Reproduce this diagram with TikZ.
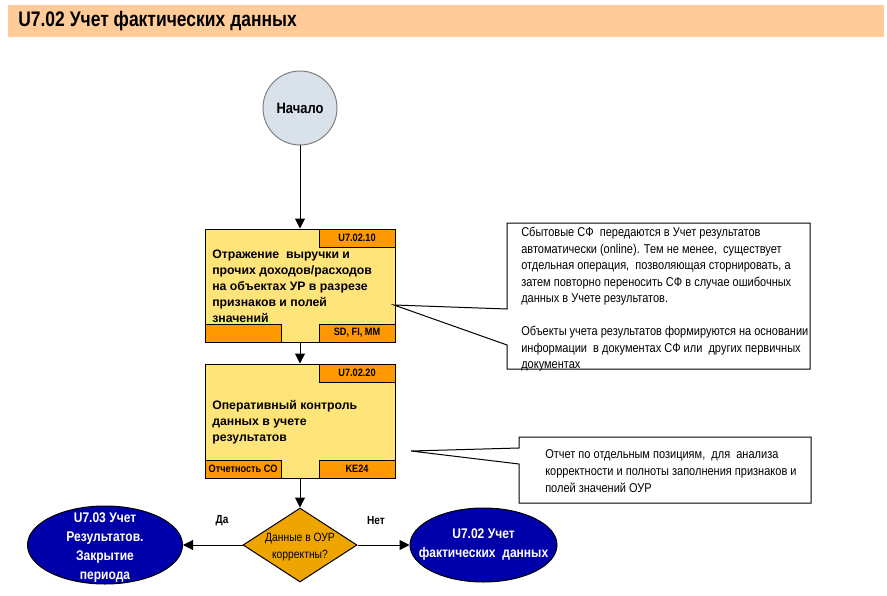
\documentclass[tikz,border=0pt]{standalone}
\usepackage{fontspec}
\setmainfont{Liberation Sans}
\newfontfamily\nar[FakeStretch=0.86]{Liberation Sans}
\newfontfamily\tnar[FakeStretch=0.83]{Liberation Sans}
\usetikzlibrary{shapes.geometric,arrows.meta}
\definecolor{titlebg}{HTML}{FFCC99}
\definecolor{boxfill}{HTML}{FFE47A}
\definecolor{tagfill}{HTML}{FF9900}
\definecolor{decfill}{HTML}{EEA500}
\definecolor{ellfill}{HTML}{0000AA}
\definecolor{startfill}{HTML}{D9E2EB}
\tikzset{
  px/.style={x=0.75pt,y=-0.75pt},
  arr/.style={draw=black,line width=0.75pt,-{Triangle[length=7.5pt,width=7.5pt]}},
  box/.style={draw=black,line width=0.75pt,fill=boxfill,rectangle,inner sep=0pt,minimum width=142.5pt},
  tag/.style={draw=black,line width=0.75pt,fill=tagfill,rectangle,inner sep=0pt,minimum width=57pt,minimum height=13.5pt,font=\nar\bfseries\fontsize{8}{9}\selectfont},
  boxtext/.style={anchor=north west,align=left,inner sep=0pt,font=\bfseries\fontsize{9.2}{12}\selectfont},
  note/.style={draw=black,line width=0.75pt,fill=white},
  notetext/.style={anchor=north west,align=left,inner sep=0pt,font=\nar\fontsize{9.6}{12.4}\selectfont},
  ell/.style={ellipse,draw=black,line width=0.75pt,fill=ellfill,inner sep=0pt},
  elltext/.style={align=center,text=white,font=\nar\bfseries\fontsize{10.5}{14.3}\selectfont},
  lbl/.style={font=\nar\bfseries\fontsize{8.8}{10}\selectfont}
}
\begin{document}
\begin{tikzpicture}[px]
\useasboundingbox (0,0) rectangle (887,595);
% title bar
\node[fill=titlebg,minimum width=657pt,minimum height=24pt,inner sep=0pt,anchor=north west] (title) at (8,5) {};
\node[anchor=west,inner sep=0pt,font=\tnar\bfseries\fontsize{15.8}{17}\selectfont] (titletext) at (18,21) {U7.02 Учет фактических данных};
% start
\node[circle,draw=gray,line width=0.75pt,fill=startfill,minimum size=55.5pt,inner sep=0pt,font=\nar\bfseries\fontsize{11.3}{13}\selectfont] (start) at (300,108) {Начало};
% box 1
\node[box,minimum height=84.75pt] (b1) at (300,285.5) {};
\node[tag,anchor=north east] (b1id) at (b1.north east) {U7.02.10};
\node[tag,anchor=south west] (b1bl) at (b1.south west) {};
\node[tag,anchor=south east] (b1br) at (b1.south east) {SD, FI, MM};
\node[boxtext] (b1t) at (212,250) {Отражение \ выручки и\\прочих доходов/расходов\\на объектах УР в разрезе\\признаков и полей\\значений};
% box 2
\node[box,minimum height=85.5pt] (b2) at (300,421) {};
\node[tag,anchor=north east] (b2id) at (b2.north east) {U7.02.20};
\node[tag,anchor=south west] (b2bl) at (b2.south west) {Отчетность СО};
\node[tag,anchor=south east] (b2br) at (b2.south east) {KE24};
\node[boxtext] (b2t) at (212,400) {Оперативный контроль\\данных в учете\\результатов};
% decision
\node[diamond,draw=black,line width=0.75pt,fill=decfill,minimum width=85.5pt,minimum height=55.5pt,inner sep=0pt,
  label={[align=center,font=\nar\fontsize{9}{13}\selectfont,yshift=-1.5pt]center:Данные в ОУР\\корректны?}] (dec) at (300,545) {};
% ellipses
\node[ell,minimum width=116.25pt,minimum height=58.5pt,
  label={[elltext,yshift=-2pt]center:U7.03 Учет\\Результатов.\\Закрытие\\периода}] (left) at (105,545) {};
\node[ell,minimum width=110.25pt,minimum height=55.5pt,
  label={[elltext]center:U7.02 Учет\\фактических \ данных}] (right) at (483.5,545) {};
% connectors
\draw[arr] (start) -- (b1);
\draw[arr] (b1) -- (b2);
\draw[arr] (b2) -- (dec);
\draw[arr] (dec) -- (left);
\draw[arr] (dec) -- (right);
\node[lbl] (da) at (222,521) {Да};
\node[lbl] (net) at (376,521) {Нет};
% callout 1
\coordinate (tip1) at (394,305);
\draw[note] (507,223) -- (810,223) -- (810,369) -- (507,369) -- (507,345) -- (tip1) -- (507,309) -- cycle;
\node[notetext] (n1) at (521,227) {Сбытовые СФ \ передаются в Учет результатов\\автоматически (online). Тем не менее, \ существует\\отдельная операция, \ позволяющая сторнировать, а\\затем повторно переносить СФ в случае ошибочных\\данных в Учете результатов.\\[12.4pt]Объекты учета результатов формируются на основании\\информации \ в документах СФ или \ других первичных\\документах};
% callout 2
\coordinate (tip2) at (411,451);
\draw[note] (519,437) -- (811,437) -- (811,503) -- (519,503) -- (519,464) -- (tip2) -- (519,448) -- cycle;
\node[notetext,font=\nar\fontsize{9.6}{13}\selectfont] (n2) at (545,449) {Отчет по отдельным позициям, \ для \ анализа\\корректности и полноты заполнения признаков и\\полей значений ОУР};
\end{tikzpicture}
\end{document}
